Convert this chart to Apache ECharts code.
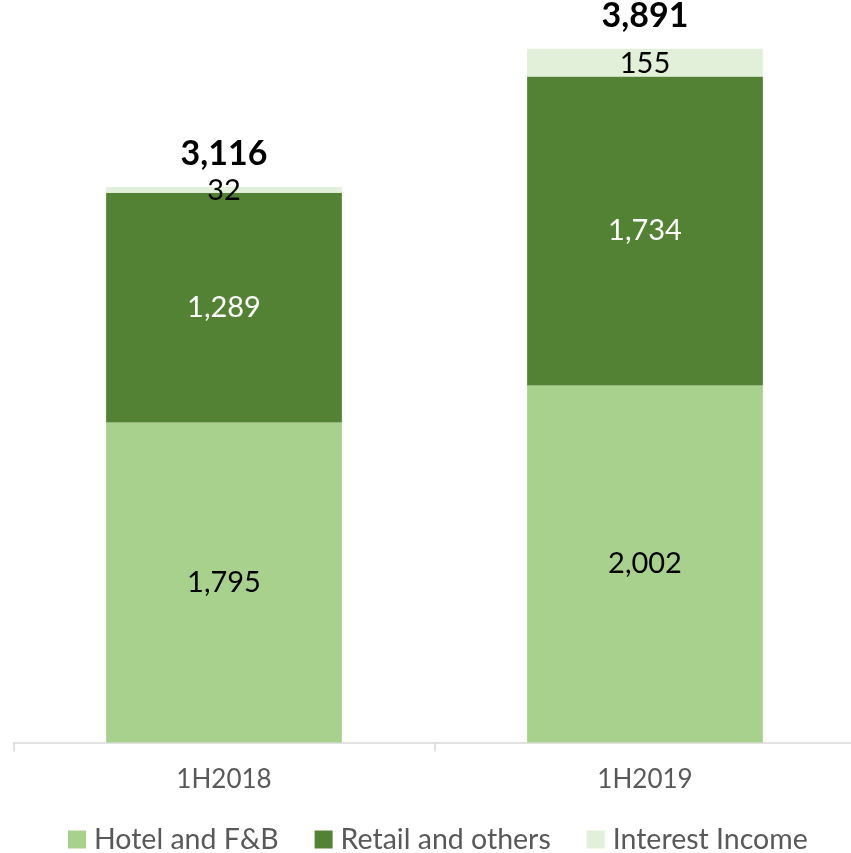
<!DOCTYPE html>
<html>
<head>
<meta charset="utf-8">
<script src="https://cdn.jsdelivr.net/npm/echarts@6/dist/echarts.min.js"></script>
<style>
html,body{margin:0;padding:0;background:#fff;}
#chart{width:851px;height:853px;}
</style>
</head>
<body>
<div id="chart"></div>
<script>
const categories = ['1H2018', '1H2019'];
const hotelFB = [1795, 2002];
const retailOthers = [1289, 1734];
const interestIncome = [32, 155];
const totals = [3116, 3891];
const seriesNames = ['Hotel and F&B', 'Retail and others', 'Interest Income'];

const FONT = 'Lato';
const fmt = v => v.toLocaleString('en-US');

const chart = echarts.init(document.getElementById('chart'));
chart.setOption({
  animation: false,
  backgroundColor: '#ffffff',
  grid: { left: 13.5, width: 842, top: 29.4, bottom: 110.5, containLabel: false, outerBoundsMode: 'none' },
  legend: {
    data: seriesNames,
    left: 63,
    top: 820,
    itemWidth: 18,
    itemHeight: 18,
    itemGap: 36,
    icon: 'rect',
    textStyle: { fontFamily: FONT, fontSize: 28.5, color: '#595959', padding: [0, 0, 0, 3] }
  },
  xAxis: {
    type: 'category',
    data: categories,
    axisLine: { lineStyle: { color: '#d9d9d9', width: 1.5 } },
    axisTick: { show: true, length: 9, lineStyle: { color: '#d9d9d9', width: 1.5 } },
    axisLabel: { fontFamily: FONT, fontSize: 26, color: '#595959', margin: 24 }
  },
  yAxis: {
    type: 'value', min: 0, max: 4000, show: false,
    splitLine: { show: false }
  },
  series: [
    {
      name: seriesNames[0], type: 'bar', stack: 'total', data: hotelFB,
      barCategoryGap: '44%',
      itemStyle: { color: '#A9D18E' },
      label: { show: true, position: 'inside', formatter: p => fmt(p.value), fontFamily: FONT, fontSize: 29, color: '#000000' }
    },
    {
      name: seriesNames[1], type: 'bar', stack: 'total', data: retailOthers,
      itemStyle: { color: '#548235' },
      label: { show: true, position: 'inside', formatter: p => fmt(p.value), fontFamily: FONT, fontSize: 29, color: '#ffffff' }
    },
    {
      name: seriesNames[2], type: 'bar', stack: 'total', data: interestIncome,
      itemStyle: { color: '#E2F0D9' },
      label: { show: true, position: 'inside', formatter: p => fmt(p.value), fontFamily: FONT, fontSize: 29, color: '#000000', offset: [0, 1] }
    },
    {
      name: 'Total', type: 'bar', stack: 'total', data: totals.map(() => 0),
      itemStyle: { color: 'transparent' },
      label: { show: true, position: 'top', distance: 16, formatter: p => fmt(totals[p.dataIndex]), fontFamily: FONT, fontWeight: 'bold', fontSize: 34, color: '#000000' }
    }
  ]
});
</script>
</body>
</html>
